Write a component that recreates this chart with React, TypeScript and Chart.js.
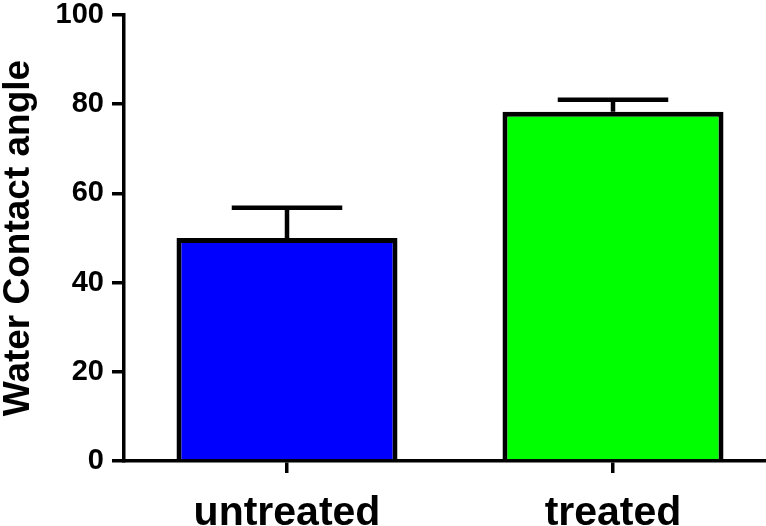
import React, { useEffect, useRef } from "react";
import { Chart, registerables } from "chart.js";

Chart.register(...registerables);

const categories = ["untreated", "treated"];
const means = [50.0, 78.3];
const errors = [6.8, 2.7];
const barColors = ["#0000ff", "#00ff00"];
const yTicks = [0, 20, 40, 60, 80, 100];
const yTitle = "Water Contact angle";

const FONT = "'Liberation Sans', Arial, Helvetica, sans-serif";

const errorBarPlugin = {
  id: "errorBars",
  afterDatasetsDraw(chart: any) {
    const ctx = chart.ctx;
    const yScale = chart.scales.y;
    const meta = chart.getDatasetMeta(0);
    ctx.save();
    ctx.strokeStyle = "#000";
    ctx.lineWidth = 4.5;
    ctx.lineCap = "butt";
    meta.data.forEach((bar: any, i: number) => {
      const top = yScale.getPixelForValue(means[i] + errors[i]);
      const x = bar.x;
      const half = bar.width * 0.25;
      ctx.beginPath();
      ctx.moveTo(x, bar.y);
      ctx.lineTo(x, top);
      ctx.moveTo(x - half, top);
      ctx.lineTo(x + half, top);
      ctx.stroke();
    });
    ctx.restore();
  },
};

export default function App() {
  const ref = useRef<HTMLCanvasElement | null>(null);

  useEffect(() => {
    if (!ref.current) return;
    const chart = new Chart(ref.current, {
      type: "bar",
      data: {
        labels: categories,
        datasets: [
          {
            data: means,
            backgroundColor: barColors,
            borderColor: "#000",
            borderWidth: 5,
            barPercentage: 0.678,
            categoryPercentage: 1,
          },
        ],
      },
      options: {
        responsive: false,
        animation: false,
        layout: { padding: { top: 15, right: 4, bottom: 0, left: 0 } },
        plugins: {
          legend: { display: false },
          tooltip: { enabled: false },
        },
        scales: {
          x: {
            offset: true,
            grid: {
              display: true,
              drawOnChartArea: false,
              drawTicks: true,
              tickLength: 12,
              color: "#000",
              lineWidth: 3.5,
              offset: false,
            },
            border: { display: true, color: "#000", width: 3.5 },
            ticks: {
              color: "#000",
              padding: 16,
              font: { family: FONT, size: 41, weight: "bold" },
            },
            afterFit(scale: any) {
              scale.height = 65;
              scale.paddingLeft = 0;
              scale.paddingRight = 0;
            },
          },
          y: {
            min: 0,
            max: 100,
            afterBuildTicks(scale: any) {
              scale.ticks = yTicks.map((v) => ({ value: v }));
            },
            grid: {
              display: true,
              drawOnChartArea: false,
              drawTicks: true,
              tickLength: 12,
              color: "#000",
              lineWidth: 3.5,
            },
            border: { display: true, color: "#000", width: 3.5 },
            ticks: {
              color: "#000",
              padding: 8,
              font: { family: FONT, size: 29, weight: "bold" },
            },
            title: {
              display: true,
              text: yTitle,
              color: "#000",
              padding: 0,
              font: { family: FONT, size: 37, weight: "bold", lineHeight: 1 },
            },
            afterFit(scale: any) {
              scale.width = 124;
              scale.paddingTop = 0;
              scale.paddingBottom = 0;
            },
          },
        },
      },
      plugins: [errorBarPlugin],
    });
    return () => chart.destroy();
  }, []);

  return (
    <div
      style={{
        position: "fixed",
        left: 0,
        top: 0,
        width: 766,
        height: 526,
        overflow: "hidden",
        background: "#fff",
      }}
    >
      <canvas ref={ref} width={780} height={526} style={{ display: "block" }} />
    </div>
  );
}
